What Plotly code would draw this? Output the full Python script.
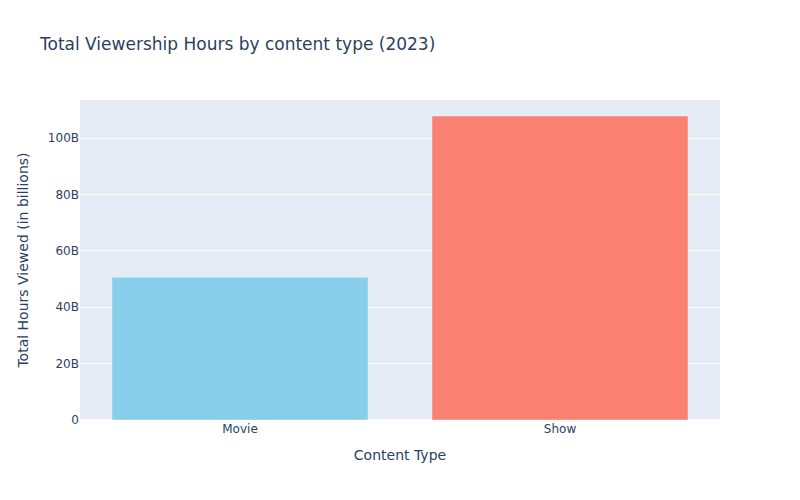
import plotly.graph_objects as go

content_types = ["Movie", "Show"]
hours_viewed = [50.6e9, 107.8e9]
bar_colors = ["skyblue", "salmon"]

fig = go.Figure(go.Bar(x=content_types, y=hours_viewed, marker_color=bar_colors))
fig.update_layout(
    title="Total Viewership Hours by content type (2023)",
    xaxis_title="Content Type",
    yaxis_title="Total Hours Viewed (in billions)",
    width=800, height=500,
    template="plotly",
    font_family="Verdana, DejaVu Sans, sans-serif",
)
fig.write_html("out.html", post_script="document.body.style.margin='0';",
               config={"displayModeBar": False})
